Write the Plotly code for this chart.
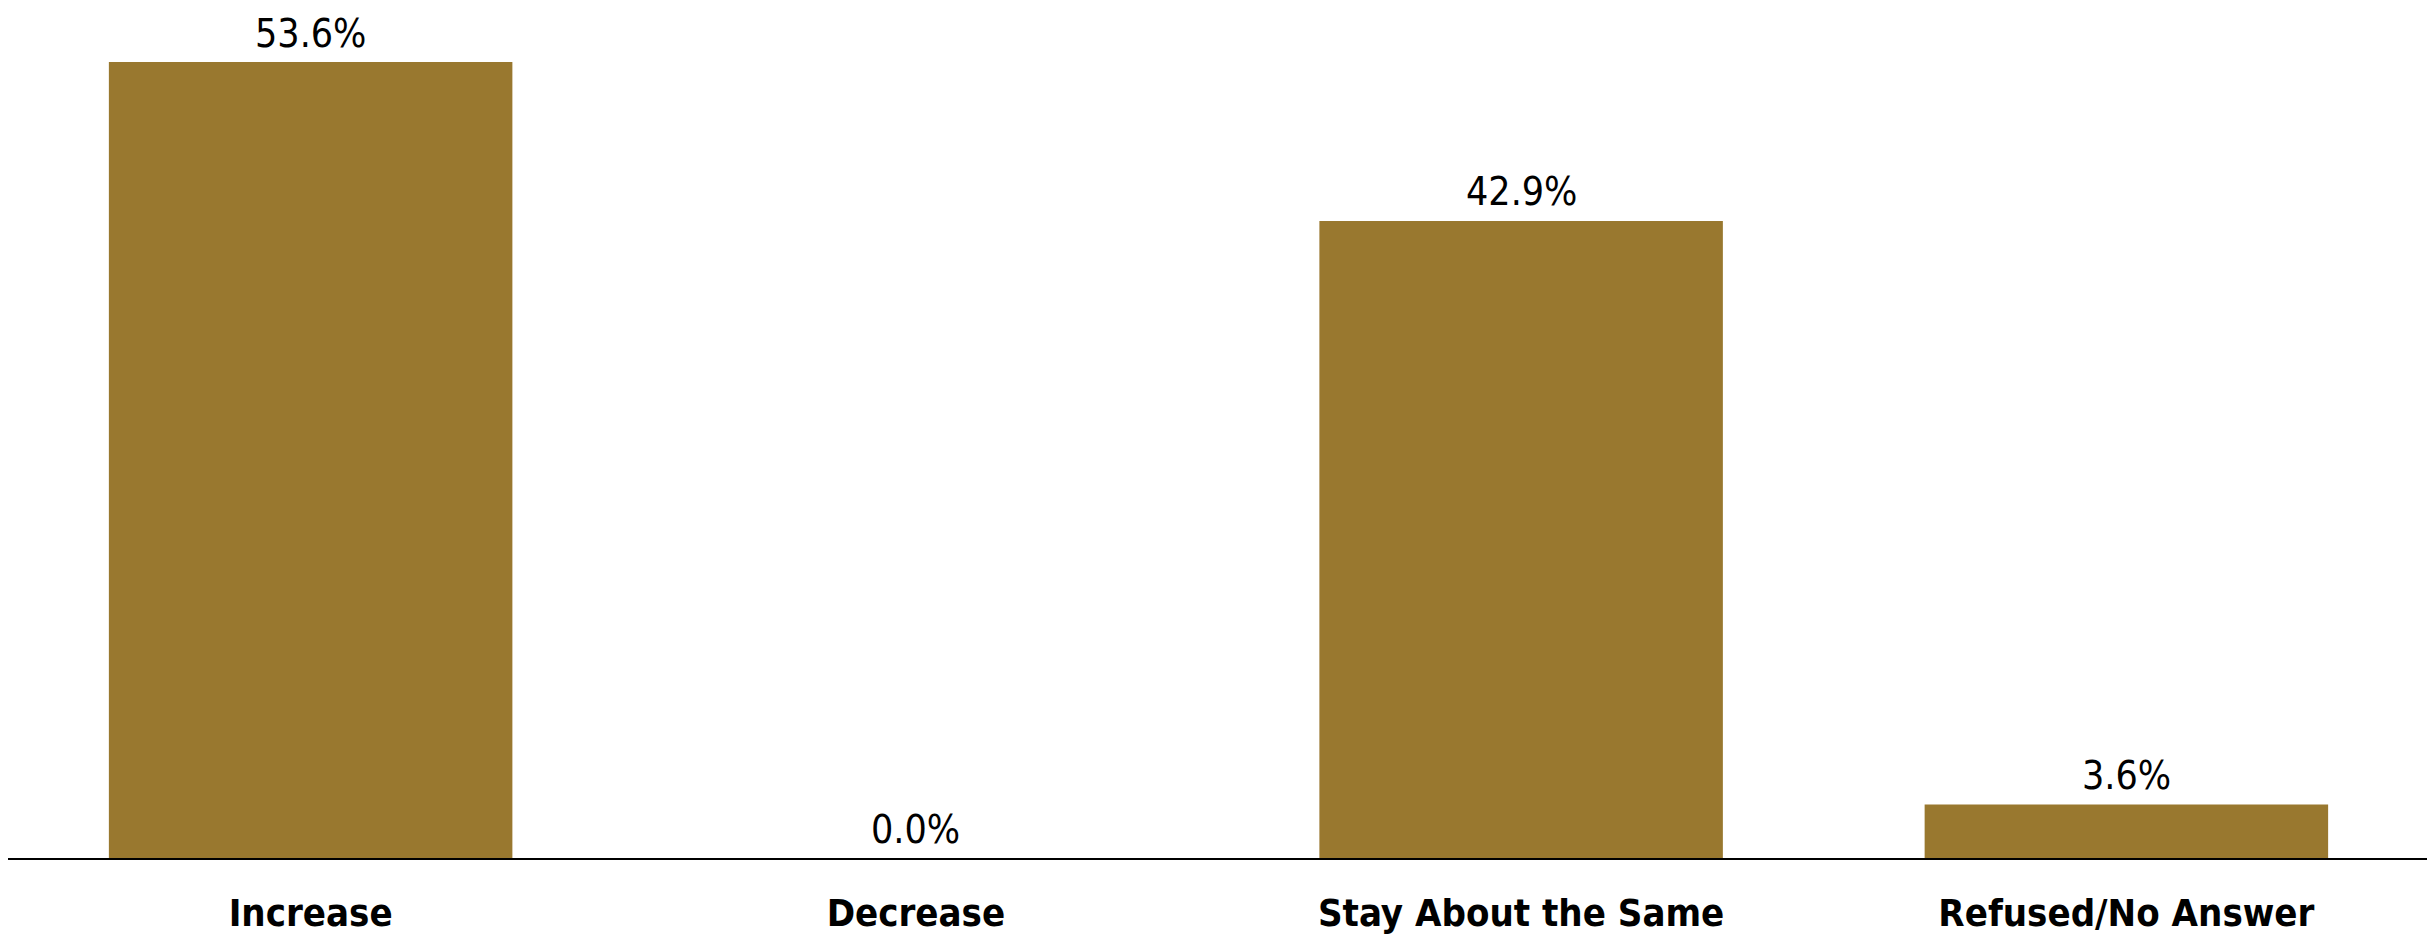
import plotly.graph_objects as go

categories = ["Increase", "Decrease", "Stay About the Same", "Refused/No Answer"]
values = [53.6, 0.0, 42.9, 3.6]
labels = [f"{v:.1f}%" for v in values]

BAR_COLOR = "#99782F"
FONT = "DejaVu Sans Condensed, DejaVu Sans, sans-serif"

fig = go.Figure()
fig.add_trace(go.Bar(
    x=categories,
    y=values,
    marker=dict(color=BAR_COLOR, line=dict(width=0)),
    hoverinfo="skip",
))

for c, v, t in zip(categories, values, labels):
    fig.add_annotation(
        x=c, y=v, text=t, showarrow=False,
        xref="x", yref="y", yanchor="middle", yshift=29,
        borderpad=0,
        font=dict(family=FONT, size=39, color="#000000"),
    )

fig.update_layout(
    width=2435,
    height=943,
    margin=dict(l=0, r=14, t=0, b=93, autoexpand=False),
    paper_bgcolor="white",
    plot_bgcolor="white",
    bargap=1/3,
    showlegend=False,
    xaxis=dict(
        showline=True,
        linecolor="#000000",
        linewidth=2,
        ticks="",
        showgrid=False,
        automargin=False,
        tickfont=dict(family=FONT, size=38, color="#000000", weight="bold"),
        ticklabelstandoff=20,
    ),
    yaxis=dict(
        range=[0, 57.24],
        visible=False,
        showgrid=False,
        zeroline=False,
        automargin=False,
    ),
)

fig.write_html("out.html")
